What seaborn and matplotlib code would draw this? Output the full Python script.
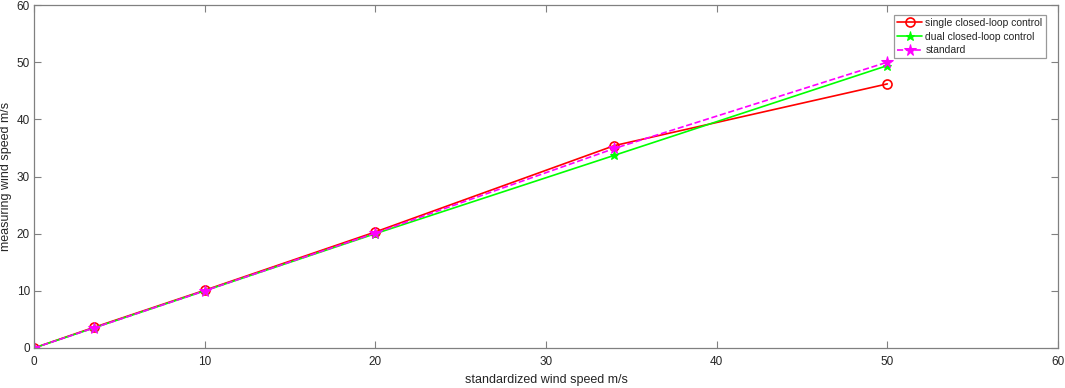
import numpy as np
import pandas as pd
import matplotlib
matplotlib.use("Agg")
import matplotlib.pyplot as plt
import seaborn as sns

# data
std_speed = [0, 3.5, 10, 20, 34, 50]
single_loop = [0, 3.6, 10.1, 20.3, 35.4, 46.2]
dual_loop = [0, 3.5, 10.0, 20.0, 33.7, 49.4]
standard = [0, 3.5, 10.0, 20.1, 34.9, 50.0]

series_names = ["single closed-loop control", "dual closed-loop control", "standard"]
colors = ["#ff0000", "#00ff00", "#ff00ff"]
markers = ["o", "*", "*"]

df = pd.DataFrame({
    "x": std_speed * 3,
    "y": single_loop + dual_loop + standard,
    "series": [series_names[0]] * 6 + [series_names[1]] * 6 + [series_names[2]] * 6,
})

sns.set_style("white")
plt.rcParams["font.family"] = ["Liberation Sans", "DejaVu Sans"]

fig = plt.figure(figsize=(10.65, 3.88), dpi=100)
ax = fig.add_axes([34 / 1065, 40 / 388, 1024 / 1065, 343 / 388])

for name, c, m in zip(series_names, colors, markers):
    sub = df[df["series"] == name]
    if name == "single closed-loop control":
        sns.lineplot(data=sub, x="x", y="y", ax=ax, color=c, lw=1.2, marker=m,
                     markersize=6.5, markerfacecolor="none", markeredgecolor=c,
                     markeredgewidth=1.2, label=name)
    elif name == "dual closed-loop control":
        sns.lineplot(data=sub, x="x", y="y", ax=ax, color=c, lw=1.2, marker=m,
                     markersize=6.5, markeredgecolor=c, label=name)
    else:
        sns.lineplot(data=sub, x="x", y="y", ax=ax, color=c, lw=1.2, marker=m,
                     markersize=8.5, markeredgecolor=c, linestyle="--", label=name)

ax.set_xlim(0, 60)
ax.set_ylim(0, 60)
ax.set_xticks(range(0, 61, 10))
ax.set_yticks(range(0, 61, 10))
ax.set_xlabel("standardized wind speed m/s", fontsize=9, color="#262626", labelpad=4)
ax.set_ylabel("measuring wind speed m/s", fontsize=9, color="#262626", labelpad=3)
ax.tick_params(direction="in", length=5, width=0.8, colors="#808080",
               labelcolor="#262626", labelsize=8.5, top=True, right=True,
               bottom=True, left=True, pad=3)
ax.tick_params(axis="x", pad=6)
for s in ax.spines.values():
    s.set_color("#808080")
    s.set_linewidth(0.9)

leg = ax.legend(loc="upper right", bbox_to_anchor=(0.988, 0.971), fontsize=7.5,
                frameon=True, fancybox=False, borderpad=0.3, labelspacing=0.35,
                handlelength=2.4, handletextpad=0.3, borderaxespad=0.0)
leg.get_frame().set_edgecolor("#808080")
leg.get_frame().set_linewidth(0.9)

fig.savefig("out.png", dpi=100)
